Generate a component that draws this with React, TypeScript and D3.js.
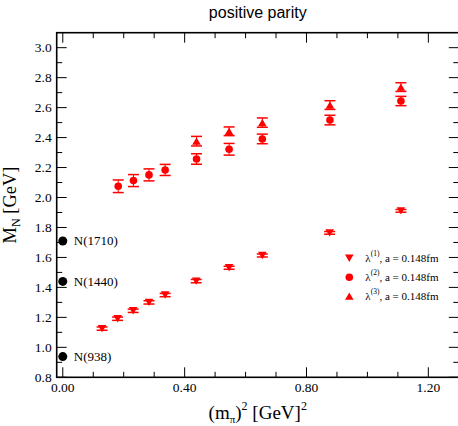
import React from 'react';
import * as d3 from 'd3';

/* ─── data ─── */
const lambda1X = [0.129, 0.180, 0.231, 0.283, 0.336, 0.438, 0.546, 0.655, 0.876, 1.110];
const lambda1M = [1.125, 1.191, 1.244, 1.300, 1.349, 1.442, 1.531, 1.613, 1.764, 1.911];
const lambda1Err = [0.011, 0.011, 0.011, 0.011, 0.011, 0.011, 0.010, 0.010, 0.009, 0.009];

const lambda2X = [0.182, 0.232, 0.283, 0.336, 0.439, 0.546, 0.655, 0.877, 1.110];
const lambda2M = [2.075, 2.113, 2.151, 2.184, 2.257, 2.322, 2.391, 2.517, 2.644];
const lambda2Err = [0.042, 0.040, 0.040, 0.037, 0.035, 0.039, 0.032, 0.032, 0.031];

const lambda3X = [0.439, 0.546, 0.655, 0.877, 1.110];
const lambda3M = [2.376, 2.442, 2.500, 2.617, 2.737];
const lambda3Err = [0.032, 0.029, 0.031, 0.029, 0.029];

const expNames = ['N(938)', 'N(1440)', 'N(1710)'];
const expMasses = [0.938, 1.440, 1.710];

const xMajorTicks = [0, 0.4, 0.8, 1.2];
const xMinorTicks = [0.1, 0.2, 0.3, 0.5, 0.6, 0.7, 0.9, 1.0, 1.1];
const yMajorTicks = [0.8, 1.0, 1.2, 1.4, 1.6, 1.8, 2.0, 2.2, 2.4, 2.6, 2.8, 3.0];
const yMinorTicks = [0.9, 1.1, 1.3, 1.5, 1.7, 1.9, 2.1, 2.3, 2.5, 2.7, 2.9];

const legendLabels = ['(1)', '(2)', '(3)'];

const W = 458, H = 426;
const margin = { left: 56.7, top: 32.7, right: -0.8, bottom: 48.7 };
const RED = '#ff0000';
const SERIF = "'Liberation Serif', 'Times New Roman', serif";

type Shape = 'down' | 'circle' | 'up';

function Marker({ shape, x, y }: { shape: Shape; x: number; y: number }) {
    if (shape === 'circle') return <circle cx={x} cy={y} r={3.8} fill={RED} />;
    const hw = 4.3, hh = 3.7;
    const d = shape === 'down'
        ? `M${x - hw},${y - hh}L${x + hw},${y - hh}L${x},${y + hh}Z`
        : `M${x - hw},${y + hh}L${x + hw},${y + hh}L${x},${y - hh}Z`;
    return <path d={d} fill={RED} />;
}

export default function App() {
    const x = d3.scaleLinear().domain([-0.02, 1.3]).range([margin.left, W - margin.right]);
    const y = d3.scaleLinear().domain([0.8, 3.1]).range([H - margin.bottom, margin.top]);
    const x0 = x.range()[0], x1 = x.range()[1];
    const y0 = y.range()[0], y1 = y.range()[1];

    const series: { shape: Shape; xs: number[]; ms: number[]; errs: number[] }[] = [
        { shape: 'down', xs: lambda1X, ms: lambda1M, errs: lambda1Err },
        { shape: 'circle', xs: lambda2X, ms: lambda2M, errs: lambda2Err },
        { shape: 'up', xs: lambda3X, ms: lambda3M, errs: lambda3Err },
    ];

    const cap = 5.5;
    const majLen = 10, minLen = 5.5;

    return (
        <svg width={W} height={H} style={{ position: 'absolute', left: 0, top: 0, background: '#fff' }}>
            {/* title */}
            <text x={(x0 + x1) / 2} y={18} textAnchor="middle" fontFamily="'Liberation Sans', Arial, sans-serif" fontSize={16}>
                positive parity
            </text>

            {/* ticks */}
            <g stroke="#000" strokeWidth={1}>
                {xMajorTicks.map(t => (
                    <g key={'xM' + t}>
                        <line x1={x(t)} x2={x(t)} y1={y0} y2={y0 - majLen} />
                        <line x1={x(t)} x2={x(t)} y1={y1} y2={y1 + majLen} />
                    </g>
                ))}
                {xMinorTicks.map(t => (
                    <g key={'xm' + t}>
                        <line x1={x(t)} x2={x(t)} y1={y0} y2={y0 - minLen} />
                        <line x1={x(t)} x2={x(t)} y1={y1} y2={y1 + minLen} />
                    </g>
                ))}
                {yMajorTicks.map(t => (
                    <g key={'yM' + t}>
                        <line x1={x0} x2={x0 + majLen} y1={y(t)} y2={y(t)} />
                        <line x1={x1} x2={x1 - majLen} y1={y(t)} y2={y(t)} />
                    </g>
                ))}
                {yMinorTicks.map(t => (
                    <g key={'ym' + t}>
                        <line x1={x0} x2={x0 + minLen} y1={y(t)} y2={y(t)} />
                        <line x1={x1} x2={x1 - minLen} y1={y(t)} y2={y(t)} />
                    </g>
                ))}
            </g>

            {/* frame */}
            <rect x={x0} y={y1} width={x1 - x0} height={y0 - y1} fill="none" stroke="#000" strokeWidth={1.6} />

            {/* tick labels */}
            <g fontFamily={SERIF} fontSize={13.5} fill="#000">
                {xMajorTicks.map(t => (
                    <text key={'xl' + t} x={x(t)} y={y0 + 15} textAnchor="middle">{d3.format('.2f')(t)}</text>
                ))}
                {yMajorTicks.map(t => (
                    <text key={'yl' + t} x={x0 - 5} y={y(t) + 4.5} textAnchor="end">{d3.format('.1f')(t)}</text>
                ))}
            </g>

            {/* axis titles */}
            <text x={(x0 + x1) / 2} y={419} textAnchor="middle" fontFamily={SERIF} fontSize={19}>
                (m<tspan fontSize={11} dy={4}>π</tspan><tspan dy={-4}>)</tspan>
                <tspan fontSize={12} dy={-9}>2</tspan><tspan dy={9}> [GeV]</tspan>
                <tspan fontSize={12} dy={-9}>2</tspan>
            </text>
            <text transform={`translate(16,${(y0 + y1) / 2}) rotate(-90)`} textAnchor="middle" fontFamily={SERIF} fontSize={18.5}>
                M<tspan fontSize={12} dy={4}>N</tspan><tspan dy={-4}> [GeV]</tspan>
            </text>

            {/* experimental states */}
            {expMasses.map((m, i) => (
                <g key={expNames[i]}>
                    <circle cx={x(0)} cy={y(m)} r={4.5} fill="#000" />
                    <text x={x(0) + 11} y={y(m) + 4.5} fontFamily={SERIF} fontSize={13}>{expNames[i]}</text>
                </g>
            ))}

            {/* lattice data */}
            {series.map(s => (
                <g key={s.shape}>
                    {s.xs.map((v, i) => {
                        const cx = x(v), top = y(s.ms[i] + s.errs[i]), bot = y(s.ms[i] - s.errs[i]);
                        return (
                            <g key={i} stroke={RED}>
                                <line x1={cx} x2={cx} y1={top} y2={bot} strokeWidth={1} />
                                <line x1={cx - cap} x2={cx + cap} y1={top} y2={top} strokeWidth={1.5} />
                                <line x1={cx - cap} x2={cx + cap} y1={bot} y2={bot} strokeWidth={1.5} />
                            </g>
                        );
                    })}
                    {s.xs.map((v, i) => <Marker key={'m' + i} shape={s.shape} x={x(v)} y={y(s.ms[i])} />)}
                </g>
            ))}

            {/* legend */}
            {series.map((s, i) => (
                <g key={'lg' + i} transform={`translate(349.3,${258.3 + i * 18.9})`}>
                    <Marker shape={s.shape} x={0} y={0} />
                    <text x={16} y={4} fontFamily={SERIF} fontSize={11}>
                        λ<tspan fontSize={7.5} dy={-6}>{legendLabels[i]}</tspan><tspan dy={6}>, a = 0.148fm</tspan>
                    </text>
                </g>
            ))}
        </svg>
    );
}
